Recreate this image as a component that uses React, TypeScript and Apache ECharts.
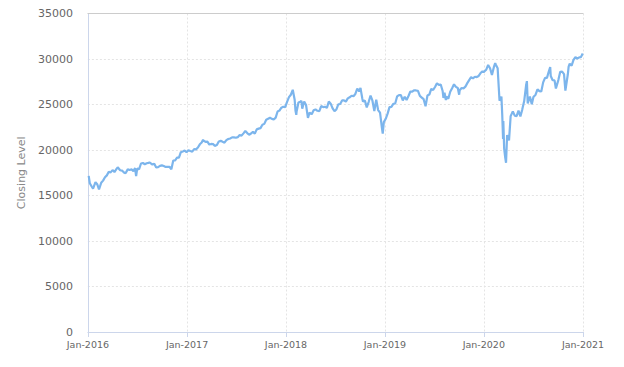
import React, { useEffect, useRef } from "react";
import * as echarts from "echarts";

const dates: string[] = [
  "2016-01-04","2016-01-08","2016-01-15","2016-01-20","2016-01-29","2016-02-05","2016-02-11","2016-02-19","2016-02-26","2016-03-04","2016-03-11","2016-03-18","2016-03-24","2016-04-01","2016-04-08","2016-04-15","2016-04-20","2016-04-29","2016-05-06","2016-05-13","2016-05-19","2016-05-27","2016-06-03","2016-06-10","2016-06-17","2016-06-23","2016-06-27","2016-07-01","2016-07-08","2016-07-15","2016-07-22","2016-07-29","2016-08-05","2016-08-12","2016-08-15","2016-08-19","2016-08-26","2016-09-02","2016-09-09","2016-09-16","2016-09-23","2016-09-30","2016-10-07","2016-10-14","2016-10-21","2016-10-28","2016-11-04","2016-11-11","2016-11-18","2016-11-25","2016-12-02","2016-12-09","2016-12-16","2016-12-23","2016-12-30",
  "2017-01-06","2017-01-13","2017-01-20","2017-01-27","2017-02-03","2017-02-10","2017-02-17","2017-02-24","2017-03-01","2017-03-03","2017-03-10","2017-03-17","2017-03-24","2017-03-31","2017-04-07","2017-04-13","2017-04-21","2017-04-28","2017-05-05","2017-05-12","2017-05-19","2017-05-26","2017-06-02","2017-06-09","2017-06-16","2017-06-23","2017-06-30","2017-07-07","2017-07-14","2017-07-21","2017-07-28","2017-08-04","2017-08-11","2017-08-18","2017-08-25","2017-09-01","2017-09-08","2017-09-15","2017-09-22","2017-09-29","2017-10-06","2017-10-13","2017-10-20","2017-10-27","2017-11-03","2017-11-10","2017-11-17","2017-11-24","2017-12-01","2017-12-08","2017-12-15","2017-12-22","2017-12-29",
  "2018-01-05","2018-01-12","2018-01-19","2018-01-26","2018-02-02","2018-02-05","2018-02-08","2018-02-09","2018-02-16","2018-02-23","2018-02-27","2018-03-02","2018-03-09","2018-03-16","2018-03-23","2018-03-29","2018-04-06","2018-04-13","2018-04-20","2018-04-27","2018-05-04","2018-05-11","2018-05-18","2018-05-25","2018-06-01","2018-06-08","2018-06-15","2018-06-22","2018-06-29","2018-07-06","2018-07-13","2018-07-20","2018-07-27","2018-08-03","2018-08-10","2018-08-17","2018-08-24","2018-08-31","2018-09-07","2018-09-14","2018-09-21","2018-09-28","2018-10-03","2018-10-05","2018-10-10","2018-10-12","2018-10-19","2018-10-26","2018-11-02","2018-11-09","2018-11-16","2018-11-23","2018-11-30","2018-12-07","2018-12-14","2018-12-21","2018-12-24","2018-12-28",
  "2019-01-04","2019-01-11","2019-01-18","2019-01-25","2019-02-01","2019-02-08","2019-02-15","2019-02-22","2019-03-01","2019-03-08","2019-03-15","2019-03-22","2019-03-29","2019-04-05","2019-04-12","2019-04-18","2019-04-26","2019-05-03","2019-05-10","2019-05-17","2019-05-24","2019-05-31","2019-06-07","2019-06-14","2019-06-21","2019-06-28","2019-07-05","2019-07-12","2019-07-19","2019-07-26","2019-08-02","2019-08-05","2019-08-09","2019-08-14","2019-08-16","2019-08-23","2019-08-30","2019-09-06","2019-09-13","2019-09-20","2019-09-27","2019-10-02","2019-10-04","2019-10-11","2019-10-18","2019-10-25","2019-11-01","2019-11-08","2019-11-15","2019-11-22","2019-11-29","2019-12-06","2019-12-13","2019-12-20","2019-12-27","2019-12-31",
  "2020-01-03","2020-01-10","2020-01-17","2020-01-24","2020-01-31","2020-02-07","2020-02-12","2020-02-14","2020-02-21","2020-02-28","2020-03-06","2020-03-09","2020-03-12","2020-03-13","2020-03-16","2020-03-20","2020-03-23","2020-03-27","2020-04-03","2020-04-09","2020-04-17","2020-04-24","2020-05-01","2020-05-08","2020-05-15","2020-05-22","2020-05-29","2020-06-05","2020-06-08","2020-06-11","2020-06-19","2020-06-26","2020-07-02","2020-07-10","2020-07-17","2020-07-24","2020-07-31","2020-08-07","2020-08-14","2020-08-21","2020-08-28","2020-09-02","2020-09-04","2020-09-11","2020-09-18","2020-09-23","2020-10-02","2020-10-09","2020-10-16","2020-10-23","2020-10-28","2020-10-30","2020-11-06","2020-11-09","2020-11-13","2020-11-20","2020-11-27","2020-12-04","2020-12-11","2020-12-18","2020-12-24","2020-12-31"
];

const closing: number[] = [
  17148,16346,15988,15766,16466,16204,15660,16392,16639,17006,17213,17602,17515,17792,17577,17897,18096,17773,17740,17535,17435,17873,17807,17865,17675,18011,17140,17949,17896,18516,18571,18432,18543,18577,18636,18553,18395,18492,18085,18124,18262,18308,18240,18138,18145,18161,17888,18847,18868,19152,19170,19757,19843,19934,19763,
  19964,19886,19827,20094,20071,20269,20624,20821,21115,21005,20903,20915,20597,20663,20656,20453,20548,20941,21007,20897,20805,21080,21206,21272,21384,21395,21350,21414,21638,21580,21830,22093,21858,21675,21814,21988,21798,22268,22350,22405,22774,22871,23329,23434,23539,23422,23358,23558,24231,24329,24652,24754,24719,
  25296,25803,26072,26617,25521,24346,23860,24191,25219,25310,25410,24538,25336,24946,23533,24103,23933,24360,24463,24311,24263,24831,24715,24753,24635,25317,25090,24581,24271,24456,25019,25058,25451,25463,25313,25669,25790,25965,25917,26155,26744,26458,26828,26447,25599,25340,25444,24688,25271,25989,25413,24286,25538,24389,24101,22445,21792,23062,
  23433,23996,24706,24737,25064,25106,25883,26031,26026,25450,25849,25502,25929,26425,26412,26559,26543,26505,25942,25764,25586,24815,25984,26090,26719,26600,26922,27332,27154,27192,26485,25718,26287,25479,25886,25629,26403,26797,27220,26935,26820,26078,26573,26817,26770,26958,27347,27681,28005,27876,28051,28015,28135,28455,28645,28538,
  28634,28824,29348,28990,28256,29102,29551,29398,28992,25409,25865,23851,21200,23185,20189,19174,18592,21637,21053,23719,24242,23775,23724,24331,23685,24465,25383,27111,27572,25128,25871,25016,25827,26075,26672,26470,26428,27433,27931,27930,28654,29100,28133,27666,27657,26763,27683,28587,28606,28336,26520,26502,28323,29158,29480,29263,29910,30218,30046,30179,30200,30606
];

const yAxisTitle = "Closing Level";
const xMin = "2016-01-01";
const xMax = "2021-01-01";

export default function App() {
  const ref = useRef<HTMLDivElement>(null);
  useEffect(() => {
    if (!ref.current) return;
    const chart = echarts.init(ref.current, undefined, { renderer: "svg" });
    const font = "DejaVu Sans";
    chart.setOption({
      animation: false,
      grid: { left: 77, right: 33, top: 5, bottom: 27 },
      xAxis: [
        {
          type: "time",
          min: xMin,
          max: xMax,
          minInterval: 365 * 24 * 3600 * 1000,
          maxInterval: 366 * 24 * 3600 * 1000,
          axisLine: { show: true, lineStyle: { color: "#ccd6eb", width: 1 } },
          axisTick: { show: true, length: 5, lineStyle: { color: "#ccd6eb" } },
          axisLabel: {
            formatter: "{MMM}-{yyyy}",
            color: "#666666",
            fontSize: 9.5,
            fontFamily: font,
            margin: 7,
            showMinLabel: true,
            showMaxLabel: true,
            hideOverlap: false,
          },
          splitLine: { show: true, lineStyle: { color: "#e4e4e4", type: [2, 2] } },
        },
        {
          type: "time",
          position: "top",
          min: xMin,
          max: xMax,
          axisLine: { show: true, lineStyle: { color: "#cccccc", width: 1 } },
          axisTick: { show: false },
          axisLabel: { show: false },
          splitLine: { show: false },
        },
      ],
      yAxis: {
        type: "value",
        min: 0,
        max: 35000,
        interval: 5000,
        name: yAxisTitle,
        nameLocation: "middle",
        nameGap: 55,
        nameTextStyle: { color: "#888888", fontSize: 11, fontFamily: font },
        axisLine: { show: true, lineStyle: { color: "#ccd6eb", width: 1 } },
        axisTick: { show: false },
        axisLabel: {
          color: "#666666",
          fontSize: 11,
          fontFamily: font,
          margin: 15,
          formatter: (v: number) => String(v),
        },
        splitLine: { show: true, lineStyle: { color: "#e4e4e4", type: [2, 2] } },
      },
      series: [
        {
          type: "line",
          xAxisIndex: 0,
          data: dates.map((d, i) => [d, closing[i]]),
          showSymbol: false,
          symbol: "none",
          lineStyle: { color: "#7cb5ec", width: 2.2 },
          itemStyle: { color: "#7cb5ec" },
        },
      ],
    });
    return () => chart.dispose();
  }, []);
  return <div ref={ref} style={{ width: 608, height: 351 }} />;
}
